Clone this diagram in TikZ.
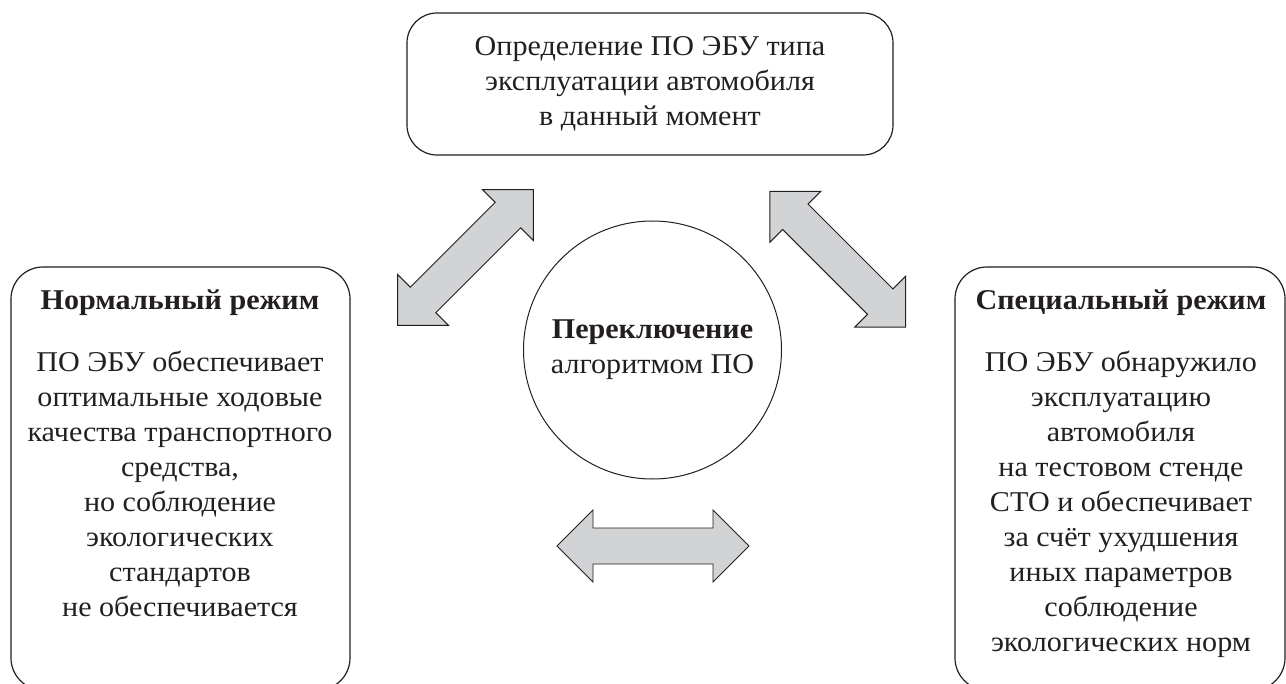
\documentclass[tikz,border=0pt]{standalone}
\usepackage{fontspec}
\setmainfont{Liberation Serif}[FakeStretch=1.05]
\definecolor{ink}{RGB}{35,31,32}
\definecolor{arrowgray}{RGB}{209,211,212}
\begin{document}
\begin{tikzpicture}[x=0.75pt,y=-0.75pt,
  txt/.style={font={\fontsize{21.5}{26.25}\selectfont}, text=ink, align=center, inner sep=0pt},
  ttl/.style={font={\fontsize{21.5}{26.25}\selectfont\bfseries}, text=ink, inner sep=0pt, anchor=base},
  box/.style={draw=ink, line width=0.9pt, inner sep=0pt},
  blockarrow/.style={fill=arrowgray, draw=ink, line width=0.7pt, line join=miter},
  dblarrow/.pic={\path[blockarrow] (-96,0) -- (-60,-36) -- (-60,-18) -- (60,-18) -- (60,-36)
      -- (96,0) -- (60,36) -- (60,18) -- (-60,18) -- (-60,36) -- cycle;},
]
\useasboundingbox (0,0) rectangle (1286,684);
\clip (0,0) rectangle (1286,684);

% top box
\node[box, rounded corners=22.5pt, minimum width=364.5pt, minimum height=106.5pt, txt] (top) at (650,84)
  {Определение ПО ЭБУ типа\\эксплуатации автомобиля\\в данный момент};

% left box
\node[box, rounded corners=24pt, minimum width=254.25pt, minimum height=317.25pt] (left) at (180.5,478.5) {};
\node[ttl] (lefttitle) at (180,310) {Нормальный режим};
\node[txt, anchor=north] (lefttext) at (180,351)
  {ПО ЭБУ обеспечивает\\оптимальные ходовые\\качества транспортного\\средства,\\но соблюдение\\экологических\\стандартов\\не обеспечивается};

% right box
\node[box, rounded corners=24pt, minimum width=247.5pt, minimum height=317.25pt] (right) at (1120,478.5) {};
\node[ttl] (righttitle) at (1121,310) {Специальный режим};
\node[txt, anchor=north] (righttext) at (1121,351)
  {ПО ЭБУ обнаружило\\эксплуатацию\\автомобиля\\на тестовом стенде\\СТО и обеспечивает\\за счёт ухудшения\\иных параметров\\соблюдение\\экологических норм};

% circle
\node[circle, draw=ink, line width=0.75pt, minimum size=193.5pt, txt] (switch) at (652.5,350)
  {\textbf{Переключение}\\алгоритмом ПО};

% block arrows
\pic[rotate=45] (a1) at (465.5,257.5) {dblarrow};
\pic[rotate=-45] (a2) at (837.8,259.2) {dblarrow};
\pic (a3) at (653,546) {dblarrow};
\end{tikzpicture}
\end{document}
